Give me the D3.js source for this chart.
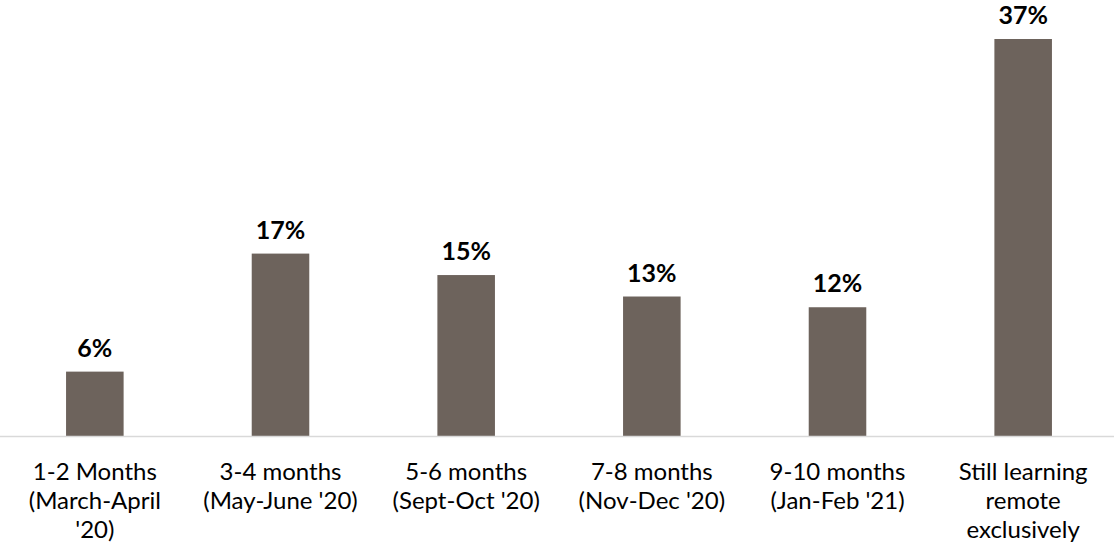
<!DOCTYPE html>
<html><head><meta charset="utf-8">
<script src="https://cdn.jsdelivr.net/npm/d3@7"></script>
<style>body{margin:0;background:#fff}svg{display:block}</style>
</head><body>
<svg id="c" width="1114" height="554"></svg>
<script>
const categories = [
  ["1-2 Months", "(March-April", "'20)"],
  ["3-4 months", "(May-June '20)"],
  ["5-6 months", "(Sept-Oct '20)"],
  ["7-8 months", "(Nov-Dec '20)"],
  ["9-10 months", "(Jan-Feb '21)"],
  ["Still learning", "remote", "exclusively"]
];
const values = [6, 17, 15, 13, 12, 37];
const valueLabels = ["6%", "17%", "15%", "13%", "12%", "37%"];

const svg = d3.select("#c");
const W = 1114, baseY = 436;
const x = d3.scaleBand().domain(d3.range(categories.length)).range([2, 1116]).paddingInner(0.69).paddingOuter(0.345);
const y = d3.scaleLinear().domain([0, 37]).range([baseY, 39]);

svg.selectAll("rect.bar").data(values).join("rect")
  .attr("class", "bar")
  .attr("x", (d, i) => x(i)).attr("width", x.bandwidth())
  .attr("y", d => y(d)).attr("height", d => baseY - y(d))
  .attr("fill", "#6d635c");

svg.append("line").attr("x1", 0).attr("x2", W).attr("y1", baseY + 0.5).attr("y2", baseY + 0.5)
  .attr("stroke", "#d9d9d9").attr("stroke-width", 1.5);

svg.selectAll("text.val").data(values).join("text")
  .attr("class", "val")
  .attr("x", (d, i) => x(i) + x.bandwidth() / 2)
  .attr("y", d => y(d) - 15)
  .attr("text-anchor", "middle")
  .attr("font-family", "Lato, 'Open Sans', sans-serif")
  .attr("font-weight", "bold").attr("font-size", 25).attr("fill", "#000")
  .text((d, i) => valueLabels[i]);

const g = svg.selectAll("text.cat").data(categories).join("text")
  .attr("class", "cat")
  .attr("text-anchor", "middle")
  .attr("font-family", "Lato, 'Open Sans', sans-serif")
  .attr("font-size", 24).attr("fill", "#000");
g.selectAll("tspan").data((d, i) => d.map(s => ({s, i}))).join("tspan")
  .attr("x", d => x(d.i) + x.bandwidth() / 2)
  .attr("y", (d, j) => 480 + j * 29)
  .text(d => d.s);
</script>
</body></html>
